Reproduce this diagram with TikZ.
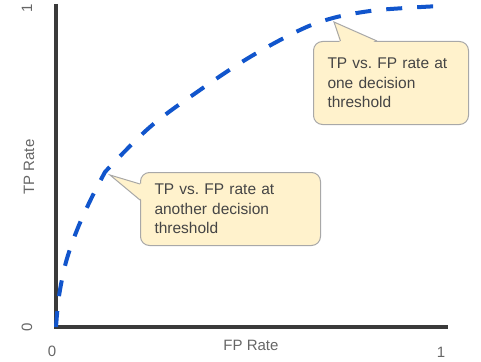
\documentclass[tikz,border=0pt]{standalone}
\usepackage{fontspec}
\setmainfont{Liberation Sans}
\frenchspacing
\definecolor{axisgray}{HTML}{3A3A3A}
\definecolor{labelgray}{HTML}{666666}
\definecolor{rocblue}{HTML}{1155CC}
\definecolor{notefill}{HTML}{FFF2CC}
\definecolor{noteline}{HTML}{A8A8A8}
\definecolor{notetext}{HTML}{454545}
\begin{document}
\begin{tikzpicture}[x=1pt,y=-1pt,
  axisline/.style={draw=axisgray,line width=4.5pt},
  axislabel/.style={text=labelgray,font=\fontsize{15}{18}\selectfont,inner sep=0pt},
  roccurve/.style={draw=rocblue,line width=4pt,dash pattern=on 16pt off 15pt},
  notebox/.style={rectangle,rounded corners=9pt,fill=notefill,draw=noteline,line width=1pt,
    text=notetext,font=\fontsize{15.5}{19.5}\selectfont,align=left,inner xsep=14pt,
    anchor=north west},
  notetail/.style={fill=notefill,draw=noteline,line width=1pt,line join=miter}
]
\useasboundingbox (0,0) rectangle (481,361);

% axes
\coordinate (O) at (56,327);
\coordinate (Ytop) at (56,4);
\coordinate (Xend) at (448,327);
\draw[axisline] (Ytop) -- (O) -- (Xend);

% tick values and axis titles
\node[axislabel,rotate=90] (y1) at (27,8) {1};
\node[axislabel,rotate=90] (y0) at (27,327) {0};
\node[axislabel,rotate=90] (ytitle) at (29,167) {TP Rate};
\node[axislabel] (x0) at (52,351) {0};
\node[axislabel] (x1) at (441,352) {1};
\node[axislabel] (xtitle) at (251,345) {FP Rate};

% ROC curve
\coordinate (kneeB) at (105,172);
\coordinate (kneeA) at (333,18);
\draw[roccurve] plot[smooth,tension=0.55] coordinates
  {(O) (59,296) (66,262) (77,230) (91,199) (kneeB)}
  -- plot[smooth,tension=0.6] coordinates
  {(kneeB) (150,127) (200,90) (250,57) (300,30) (kneeA) (370,11) (405,8) (440,6)};

% callout for the upper threshold
\node[notebox,minimum width=155pt,minimum height=83pt,text width=127pt] (noteA) at (313,41)
  {TP vs. FP rate at\\one decision\\threshold};
\coordinate (tipA) at (334,22);
\fill[notefill] (340,43) -- (tipA) -- (377,43) -- cycle;
\draw[notetail] (340.5,41) -- (tipA) -- (377,41);

% callout for the lower threshold
\node[notebox,minimum width=180pt,minimum height=73pt,text width=152pt] (noteB) at (140,172)
  {TP vs. FP rate at\\another decision\\threshold};
\coordinate (tipB) at (110,175);
\fill[notefill] (142,184) -- (tipB) -- (142,200) -- cycle;
\draw[notetail] (140,184) -- (tipB) -- (140,200);
\end{tikzpicture}
\end{document}
